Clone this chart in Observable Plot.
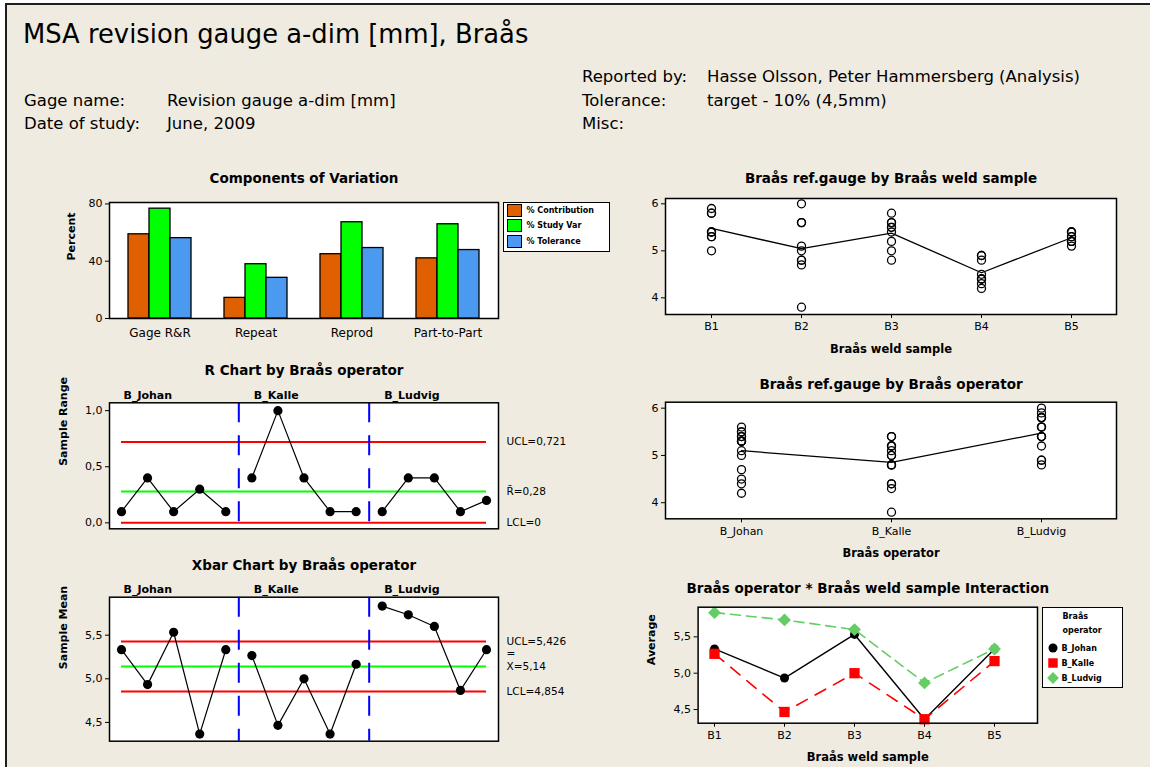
<!DOCTYPE html>
<html>
<head>
<meta charset="utf-8">
<script src="https://cdn.jsdelivr.net/npm/d3@7"></script>
<script src="https://cdn.jsdelivr.net/npm/@observablehq/plot@0.6"></script>
<style>
  body { margin: 0; background: #fff; font-family: "DejaVu Sans", sans-serif; }
  #page { position: relative; width: 1150px; height: 767px; overflow: hidden; }
  #sheet { position: absolute; left: 5px; top: 3px; right: 0; bottom: 0; background: #EFEBE1;
           border-top: 2px solid #1e1e1e; border-left: 2px solid #1e1e1e; }
  .txt { position: absolute; white-space: nowrap; line-height: 1; color: #000; }
  .hdr { font-size: 16.5px; }
  .legend { position: absolute; background: #fff; border: 1.5px solid #000; box-sizing: border-box; }
  .legend .row { position: absolute; left: 0; right: 0; height: 13px; display: flex; align-items: center; }
  .legend .lab { font-size: 8px; font-weight: bold; white-space: nowrap; }
</style>
</head>
<body>
<div id="page"><div id="sheet"></div></div>
<script>
// ---- study data -------------------------------------------------------
const parts = ["B1", "B2", "B3", "B4", "B5"];
const operators = ["B_Johan", "B_Kalle", "B_Ludvig"];

// three repeated readings [mm] per operator and weld sample (B1..B5)
const johan  = [[5.3, 5.3, 5.4], [4.7, 5.0, 5.1], [5.5, 5.5, 5.6], [4.2, 4.4, 4.5], [5.3, 5.3, 5.4]];
const kalle  = [[5.0, 5.4, 5.4], [3.8, 4.8, 4.8], [4.8, 5.0, 5.2], [4.3, 4.4, 4.4], [5.1, 5.2, 5.2]];
const ludvig = [[5.8, 5.8, 5.9], [5.6, 5.6, 6.0], [5.4, 5.6, 5.8], [4.8, 4.9, 4.9], [5.2, 5.4, 5.4]];

// components of variation [%]
const components = ["Gage R&R", "Repeat", "Reprod", "Part-to-Part"];
const seriesNames = ["% Contribution", "% Study Var", "% Tolerance"];
const pctContribution = [58.8, 14.4, 44.9, 42.0];
const pctStudyVar = [76.7, 37.9, 67.2, 65.8];
const pctTolerance = [56.1, 28.4, 49.2, 47.8];

// control limits
const rUCL = 0.721, rBar = 0.28, rLCL = 0;
const xUCL = 5.426, xBar = 5.14, xLCL = 4.854;

// axis ticks
const pctTicks = [0, 40, 80];
const rangeTicks = [0, 0.5, 1.0];
const meanTicks = [4.5, 5.0, 5.5];
const gaugeTicks = [4, 5, 6];

// ---- derived tables ---------------------------------------------------
const readings = {B_Johan: johan, B_Kalle: kalle, B_Ludvig: ludvig};
const rows = operators.flatMap(op => parts.flatMap((p, i) =>
  readings[op][i].map((v, t) => ({operator: op, part: p, trial: t + 1, value: v}))));

const subgroups = operators.flatMap((op, k) => parts.map((p, i) => {
  const v = readings[op][i];
  return {operator: op, part: p, index: k * parts.length + i, mean: d3.mean(v), range: d3.max(v) - d3.min(v)};
}));
const [firstIdx, lastIdx] = d3.extent(subgroups, d => d.index);
const opStarts = operators.map(op => ({operator: op, index: d3.min(subgroups.filter(d => d.operator === op), d => d.index)}));
const dividers = opStarts.slice(1).map(d => d.index - 0.5);

const compValues = [pctContribution, pctStudyVar, pctTolerance];
const compRows = components.flatMap((c, i) => seriesNames.map((s, j) => ({component: c, series: s, value: compValues[j][i]})));

// ---- styling ----------------------------------------------------------
const seriesColors = ["#E06000", "#00FF00", "#4C9AF0"];
const RED = "#FF0000", GREEN = "#00FF00", BLUE = "#0000FF";
const opStyle = {
  B_Johan:  {color: "#000000", dash: null,    symbol: "circle",   r: 4.5, width: 1.4},
  B_Kalle:  {color: "#FF0000", dash: "12,9",  symbol: "square",   r: 5.8, width: 1.6},
  B_Ludvig: {color: "#66CC66", dash: "10,6",  symbol: "diamond2", r: 5.8, width: 1.6}
};
const comma = d => String(d).replace(".", ",");
const comma1 = d => d.toFixed(1).replace(".", ",");
const font = "'DejaVu Sans', sans-serif";
const style = (size) => ({background: "transparent", overflow: "visible", fontFamily: font, fontSize: size, color: "#000"});
const titleText = (t, dy) => Plot.text([t], {frameAnchor: "top", lineAnchor: "middle", dy, fontWeight: "bold", fontSize: 13.5});
const yTitle = (t, dx) => Plot.text([t], {frameAnchor: "left", lineAnchor: "middle", dx, rotate: -90, fontWeight: "bold", fontSize: 11});
const xTitle = (t, dy) => Plot.text([t], {frameAnchor: "bottom", lineAnchor: "middle", dy, fontWeight: "bold", fontSize: 11.5});

const page = document.getElementById("page");
function place(el, left, top) {
  el.style.position = "absolute";
  el.style.left = left + "px";
  el.style.top = top + "px";
  el.style.maxWidth = "none";
  page.appendChild(el);
}
function addText(text, left, top, cls, extra = "") {
  const d = document.createElement("div");
  d.className = "txt " + cls;
  d.style.cssText += `left:${left}px;top:${top}px;${extra}`;
  d.textContent = text;
  page.appendChild(d);
}

// ---- header -----------------------------------------------------------
addText("MSA revision gauge a-dim [mm], Braås", 23, 21.5, "", "font-size:25.8px;");
addText("Gage name:", 24, 92.5, "hdr");
addText("Revision gauge a-dim [mm]", 167, 92.5, "hdr");
addText("Date of study:", 24, 116, "hdr");
addText("June, 2009", 167, 116, "hdr");
addText("Reported by:", 582, 69, "hdr");
addText("Hasse Olsson, Peter Hammersberg (Analysis)", 707, 69, "hdr");
addText("Tolerance:", 582, 92.5, "hdr");
addText("target - 10% (4,5mm)", 707, 92.5, "hdr");
addText("Misc:", 582, 116, "hdr");

// ---- components of variation -------------------------------------------
const compSize = {width: 500, height: 190, marginLeft: 109, marginRight: 2, marginTop: 52, marginBottom: 22};
const compDomain = [0, 81];
place(Plot.plot({
  ...compSize, style: style("11px"),
  y: {domain: compDomain, ticks: pctTicks, tickSize: 4, tickPadding: 3, label: null},
  marks: [
    Plot.frame({fill: "white"}),
    Plot.ruleY([0]),
    titleText("Components of Variation", -23.7),
    yTitle("Percent", -38),
    Plot.frame({stroke: "black", strokeWidth: 1.5})
  ]
}), 0, 150);
place(Plot.plot({
  ...compSize, style: style("12px"),
  facet: {data: compRows, x: "component"},
  fx: {domain: components, paddingInner: 0.326, paddingOuter: 0.18, axis: "bottom", label: null, tickSize: 0, tickPadding: 10},
  x: {domain: seriesNames, axis: null, paddingInner: 0, paddingOuter: 0},
  y: {domain: compDomain, axis: null},
  color: {domain: seriesNames, range: seriesColors},
  marks: [
    Plot.barY(compRows, {x: "series", y: "value", fill: "series", stroke: "black", strokeWidth: 1.3})
  ]
}), 0, 150);

// legend for the bars
{
  const box = document.createElement("div");
  box.className = "legend";
  box.style.cssText += "left:502.5px;top:201.5px;width:107px;height:50px;";
  seriesNames.forEach((s, j) => {
    const row = document.createElement("div");
    row.className = "row";
    row.style.top = (1 + j * 15.8) + "px";
    row.innerHTML = `<span style="display:inline-block;width:13px;height:11px;margin:0 5px 0 3px;background:${seriesColors[j]};border:1.3px solid #000"></span><span class="lab">${s}</span>`;
    box.appendChild(row);
  });
  page.appendChild(box);
}

// ---- control charts by operator --------------------------------------
function controlChart({yDomain, ticks, value, limits, title, ylabel, width, height, marginTop, marginBottom, titleDy, extra = []}) {
  return Plot.plot({
    width, height, marginLeft: 109, marginRight: 102, marginTop, marginBottom,
    style: style("11px"),
    x: {domain: [firstIdx - 0.46, lastIdx + 0.46], axis: null},
    y: {domain: yDomain, ticks, tickFormat: comma1, tickSize: 4, tickPadding: 3, label: null},
    marks: [
      Plot.frame({fill: "white"}),
      Plot.ruleY([limits[0].value, limits[2].value], {x1: firstIdx, x2: lastIdx, stroke: RED, strokeWidth: 2}),
      Plot.ruleY([limits[1].value], {x1: firstIdx, x2: lastIdx, stroke: GREEN, strokeWidth: 2}),
      Plot.ruleX(dividers, {stroke: BLUE, strokeWidth: 2, strokeDasharray: "20,13"}),
      Plot.line(subgroups, {x: "index", y: value, z: "operator", stroke: "black", strokeWidth: 1.2}),
      Plot.dot(subgroups, {x: "index", y: value, r: 4.6, fill: "black"}),
      Plot.text(opStarts, {x: "index", text: "operator", frameAnchor: "top", lineAnchor: "middle", dy: -7.5, dx: 2, textAnchor: "start", fontWeight: "bold", fontSize: 11}),
      Plot.text(limits, {y: "value", text: "label", frameAnchor: "right", dx: 8, textAnchor: "start", fontSize: 10.5}),
      ...extra,
      titleText(title, titleDy),
      yTitle(ylabel, -46),
      Plot.frame({stroke: "black", strokeWidth: 1.5})
    ]
  });
}

place(controlChart({
  yDomain: [-0.053, 1.07], ticks: rangeTicks, value: "range",
  limits: [{value: rUCL, label: `UCL=${comma(rUCL)}`}, {value: rBar, label: `R\u0304=${comma(rBar)}`}, {value: rLCL, label: `LCL=${comma(rLCL)}`}],
  title: "R Chart by Braås operator", ylabel: "Sample Range",
  width: 600, height: 190, marginTop: 47.3, marginBottom: 16.7, titleDy: -32.3
}), 0, 355);

place(controlChart({
  yDomain: [4.285, 5.935], ticks: meanTicks, value: "mean",
  limits: [{value: xUCL, label: `UCL=${comma(xUCL)}`}, {value: xBar, label: `X=${comma(xBar)}`}, {value: xLCL, label: `LCL=${comma(xLCL)}`}],
  title: "Xbar Chart by Braås operator", ylabel: "Sample Mean",
  width: 600, height: 219, marginTop: 48.7, marginBottom: 26.3, titleDy: -31.7,
  extra: [Plot.text([xBar], {y: d => d, text: () => "=", frameAnchor: "right", dx: 8, dy: -13, textAnchor: "start", fontSize: 10.5})]
}), 0, 548);

// ---- gauge readings by weld sample / by operator -----------------------
function spread({key, domain, yDomain, title, xlabel, marginTop, marginBottom, titleDy}) {
  return Plot.plot({
    width: 515, height: 210, marginLeft: 50, marginRight: 14, marginTop, marginBottom,
    style: style("11px"),
    x: {domain, type: "point", padding: 0.5, tickSize: 4, tickPadding: 4, label: null},
    y: {domain: yDomain, ticks: gaugeTicks, tickFormat: d => String(d), tickSize: 4, tickPadding: 3, label: null},
    marks: [
      Plot.frame({fill: "white"}),
      Plot.dot(rows, {x: key, y: "value", r: 4, stroke: "black", strokeWidth: 1.3, fill: "none"}),
      Plot.line(rows, Plot.groupX({y: "mean"}, {x: key, y: "value", stroke: "black", strokeWidth: 1.3})),
      titleText(title, titleDy),
      xTitle(xlabel, 34.4),
      Plot.frame({stroke: "black", strokeWidth: 1.5})
    ]
  });
}
place(spread({key: "part", domain: parts, yDomain: [3.645, 6.113], title: "Braås ref.gauge by Braås weld sample",
  xlabel: "Braås weld sample", marginTop: 48, marginBottom: 46, titleDy: -19.7}), 615, 150);
place(spread({key: "operator", domain: operators, yDomain: [3.66, 6.126], title: "Braås ref.gauge by Braås operator",
  xlabel: "Braås operator", marginTop: 46.7, marginBottom: 46.7, titleDy: -17.7}), 615, 355);

// ---- operator * weld sample interaction ------------------------------
place(Plot.plot({
  width: 515, height: 207, marginLeft: 82.6, marginRight: 93, marginTop: 46.7, marginBottom: 44.3,
  style: style("11px"),
  x: {domain: parts, type: "point", padding: 0.4235, align: 0.268, tickSize: 4, tickPadding: 4, label: null},
  y: {domain: [4.312, 5.908], ticks: meanTicks, tickFormat: comma1, tickSize: 4, tickPadding: 3, label: null},
  marks: [
    Plot.frame({fill: "white"}),
    ...operators.flatMap(op => {
      const s = opStyle[op];
      const data = rows.filter(d => d.operator === op);
      return [
        Plot.line(data, Plot.groupX({y: "mean"}, {x: "part", y: "value", stroke: s.color, strokeWidth: s.width, strokeDasharray: s.dash ?? undefined})),
        Plot.dot(data, Plot.groupX({y: "mean"}, {x: "part", y: "value", symbol: s.symbol, r: s.r, fill: s.color}))
      ];
    }),
    titleText("Braås operator * Braås weld sample Interaction", -18.4),
    yTitle("Average", -47),
    xTitle("Braås weld sample", 34),
    Plot.frame({stroke: "black", strokeWidth: 1.5})
  ]
}), 615, 560);

{
  const box = document.createElement("div");
  box.className = "legend";
  box.style.cssText += "left:1041.5px;top:606.5px;width:81px;height:81px;";
  const head = ["Braås", "operator"];
  head.forEach((t, i) => {
    const row = document.createElement("div");
    row.className = "row";
    row.style.top = (2 + i * 14.3) + "px";
    row.innerHTML = `<span class="lab" style="margin-left:20px">${t}</span>`;
    box.appendChild(row);
  });
  const shapes = {circle: d3.symbolCircle, square: d3.symbolSquare, diamond2: d3.symbolDiamond2};
  operators.forEach((op, j) => {
    const s = opStyle[op];
    const size = Math.PI * s.r * s.r * (s.symbol === "circle" ? 1 : 0.85);
    const row = document.createElement("div");
    row.className = "row";
    row.style.top = (34 + j * 15.2) + "px";
    row.innerHTML = `<svg width="14" height="14" viewBox="-7 -7 14 14" style="margin:0 2px 0 3px"><path d="${d3.symbol(shapes[s.symbol], size)()}" fill="${s.color}"/></svg><span class="lab">${op}</span>`;
    box.appendChild(row);
  });
  page.appendChild(box);
}
</script>
</body>
</html>
